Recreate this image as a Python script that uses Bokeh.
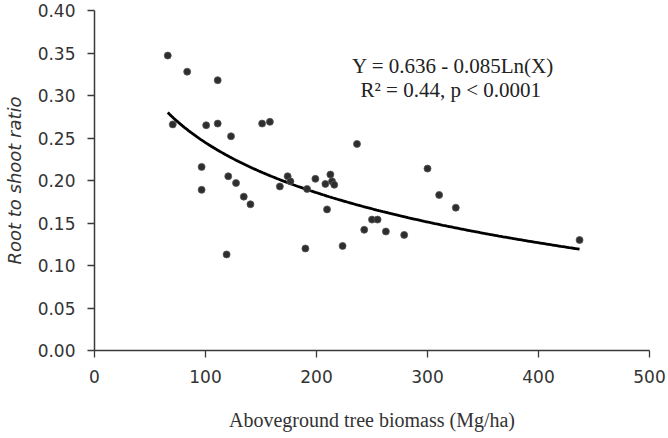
import numpy as np
from bokeh.plotting import figure
from bokeh.models import Range1d, FixedTicker, NumeralTickFormatter, Label
from bokeh.embed import file_html
from bokeh.resources import INLINE

# Data
biomass = [66, 83.5, 111, 70.5, 100.6, 111, 123, 151, 158,
           96.5, 96.5, 120.5, 127.5, 134.5, 140.5, 119,
           167, 174, 176.5, 191.5, 199, 208, 212.5, 214, 216,
           209.5, 236.5, 250, 255, 243, 262.5, 279,
           190, 223.5, 300, 310.5, 325.5, 437]
ratio = [0.347, 0.328, 0.318, 0.266, 0.265, 0.267, 0.252, 0.267, 0.269,
         0.216, 0.189, 0.205, 0.197, 0.181, 0.172, 0.113,
         0.193, 0.205, 0.199, 0.190, 0.202, 0.196, 0.207, 0.199, 0.195,
         0.166, 0.243, 0.154, 0.154, 0.142, 0.140, 0.136,
         0.120, 0.123, 0.214, 0.183, 0.168, 0.130]

# Fitted equation printed on the chart: Y = a - b Ln(X)
fit_a = 0.636
fit_b = 0.085

x_ticks = [0, 100, 200, 300, 400, 500]
y_ticks = [0.00, 0.05, 0.10, 0.15, 0.20, 0.25, 0.30, 0.35, 0.40]

eq_line1 = "Y = 0.636 - 0.085Ln(X)"
eq_line2 = "R\u00b2 = 0.44, p < 0.0001"

p = figure(width=668, height=438, output_backend="svg", toolbar_location=None,
           x_range=Range1d(0, 500), y_range=Range1d(0, 0.40),
           min_border_left=94, min_border_right=19, min_border_top=10,
           min_border_bottom=88)
p.outline_line_color = None
p.xgrid.visible = False
p.ygrid.visible = False
p.background_fill_color = "white"
p.border_fill_color = "white"

# fitted curve from the printed coefficients
xs = np.linspace(min(biomass), max(biomass), 200)
ys = fit_a - fit_b * np.log(xs)
p.line(xs, ys, line_color="black", line_width=2.8)

p.scatter(biomass, ratio, size=7, fill_color="#2e2e2e", line_color="#555555",
          line_width=0.8)

for ax in (p.xaxis[0], p.yaxis[0]):
    ax.axis_line_color = "#3a3a3a"
    ax.axis_line_width = 1.5
    ax.major_tick_line_color = "#3a3a3a"
    ax.major_tick_line_width = 1.3
    ax.major_tick_out = 7
    ax.major_tick_in = 0
    ax.minor_tick_line_color = None
    ax.major_label_text_font = "DejaVu Sans"
    ax.major_label_text_font_size = "17px"
    ax.major_label_text_color = "#333333"

p.xaxis.ticker = FixedTicker(ticks=x_ticks)
p.yaxis.ticker = FixedTicker(ticks=y_ticks)
p.yaxis.formatter = NumeralTickFormatter(format="0.00")
p.xaxis.major_label_standoff = 12
p.yaxis.major_label_standoff = 12

p.xaxis.axis_label = "Aboveground tree biomass (Mg/ha)"
p.xaxis.axis_label_text_font = "Liberation Serif"
p.xaxis.axis_label_text_font_style = "normal"
p.xaxis.axis_label_text_font_size = "20px"
p.xaxis.axis_label_text_color = "#333333"
p.xaxis.axis_label_standoff = 23

p.yaxis.axis_label = "Root to shoot ratio"
p.yaxis.axis_label_text_font = "DejaVu Sans"
p.yaxis.axis_label_text_font_style = "italic"
p.yaxis.axis_label_text_font_size = "18px"
p.yaxis.axis_label_text_color = "#333333"
p.yaxis.axis_label_standoff = 10

p.add_layout(Label(x=323, y=0.335, text=eq_line1, text_align="center",
                   text_baseline="middle", text_font="Liberation Serif",
                   text_font_size="21px", text_color="#222222"))
p.add_layout(Label(x=321, y=0.307, text=eq_line2, text_align="center",
                   text_baseline="middle", text_font="Liberation Serif",
                   text_font_size="21px", text_color="#222222"))

open("out.html", "w").write(file_html(p, INLINE))
